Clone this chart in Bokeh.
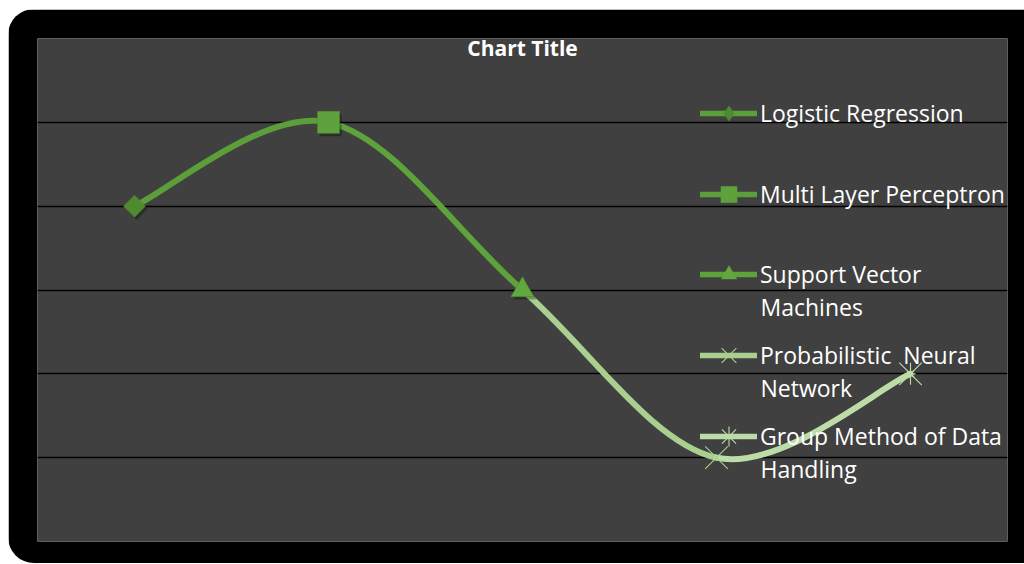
import math
from bokeh.plotting import figure
from bokeh.models import (Grid, FixedTicker, Label, Legend, LegendItem,
                          ColumnDataSource, Range1d)
from bokeh.transform import dodge
from bokeh.embed import file_html
from bokeh.resources import INLINE

# ---- data ----
methods = ["Logistic Regression", "Multi Layer Perceptron", "Support Vector Machines",
           "Probabilistic  Neural Network", "Group Method of Data Handling"]
label_first = ["Logistic Regression", "Multi Layer Perceptron", "Support Vector",
               "Probabilistic  Neural", "Group Method of Data"]
label_second = ["", "", "Machines", "Network", "Handling"]
values = [4, 5, 3, 1, 2]
positions = [0.5, 1.5, 2.5, 3.5, 4.5]
markers = ["square", "square", "triangle", "x", "x"]
legend_markers = ["diamond", "square", "triangle", "x", "asterisk"]
marker_angles = [math.pi / 4, 0, 0, 0, 0]
marker_sizes = [15.5, 22, 23, 32, 32]
legend_glyph_h = [38, 40, 38, 52, 50]
line_colors = ["#5B9E3A", "#5B9E3A", "#5EA23C", "#A9D08E", "#BCDCA8"]
marker_colors = ["#4E8B2E", "#5EA13D", "#62A83F", "#A9D08E", "#BCDCA8"]
grid_ticks = [1, 2, 3, 4, 5]

FONT = "Open Sans"

p = figure(width=1016, height=554, output_backend="svg", toolbar_location=None,
           x_axis_location=None, y_axis_location=None,
           x_range=Range1d(0, 5), y_range=Range1d(0, 6),
           min_border_left=29, min_border_right=17, min_border_top=29, min_border_bottom=22)
p.margin = (9, 0, 0, 8)
p.styles = {"border-radius": "26px 0 0 26px", "overflow": "hidden"}
p.border_fill_color = "black"
p.background_fill_color = "#404040"
p.outline_line_color = None
p.xgrid.visible = False
p.ygrid.visible = False

grid = Grid(dimension=1, ticker=FixedTicker(ticks=grid_ticks),
            grid_line_color="black", grid_line_width=1.3)
p.add_layout(grid)

# smooth curve (Catmull-Rom style bezier, like Excel's smoothed line)
n = len(values)
segs = dict(x0=[], y0=[], x1=[], y1=[], cx0=[], cy0=[], cx1=[], cy1=[], color=[])
for i in range(n - 1):
    xa, ya = (positions[i - 1], values[i - 1]) if i > 0 else (positions[i], values[i])
    xb, yb = positions[i], values[i]
    xc, yc = positions[i + 1], values[i + 1]
    xd, yd = (positions[i + 2], values[i + 2]) if i + 2 < n else (xc, yc)
    segs["x0"].append(xb); segs["y0"].append(yb)
    segs["x1"].append(xc); segs["y1"].append(yc)
    segs["cx0"].append(xb + (xc - xa) / 6); segs["cy0"].append(yb + (yc - ya) / 6)
    segs["cx1"].append(xc - (xd - xb) / 6); segs["cy1"].append(yc - (yd - yb) / 6)
    segs["color"].append(line_colors[i + 1])
p.bezier(x0="x0", y0="y0", x1="x1", y1="y1", cx0="cx0", cy0="cy0", cx1="cx1", cy1="cy1",
         line_color="color", line_width=6, line_cap="round", source=ColumnDataSource(segs))

legend_centers = [428, 347, 267, 186, 105]   # legend rows, px above plot-area bottom
for i in range(n):
    mk = markers[i]
    thin = mk == "x"
    src = ColumnDataSource(dict(x=[positions[i]], y=[values[i]]))
    thin_w = 1.1
    # legend-only marker (hidden beneath the data marker)
    lm = p.scatter(x="x", y="y", source=src, marker=legend_markers[i], size=10,
                   fill_color=marker_colors[i], line_color=marker_colors[i],
                   line_width=thin_w if thin else 0.6)
    if not thin:
        p.scatter(x=dodge("x", 0.011, range=p.x_range), y=dodge("y", -0.035, range=p.y_range),
                  source=src, marker=mk, size=marker_sizes[i], angle=marker_angles[i],
                  fill_color="black", line_color=None, fill_alpha=0.3)
    p.scatter(x="x", y="y", source=src, marker=mk, size=marker_sizes[i], angle=marker_angles[i],
              fill_color=marker_colors[i], line_color=marker_colors[i] if thin else "#4A8A2C",
              line_width=thin_w if thin else 0.6)
    if i == 4:
        p.scatter(x="x", y="y", source=src, marker="dash", size=22,
                  angle=math.pi / 2, line_color=marker_colors[i], line_width=thin_w)
    ln = p.line(x=[positions[i]], y=[values[i]], line_color=line_colors[i], line_width=5.5,
                line_cap="round")
    gh = legend_glyph_h[i]
    H = max(gh, 40)
    lg = Legend(items=[LegendItem(label=label_first[i], renderers=[ln, lm])],
                location=(663, legend_centers[i] - H / 2),
                background_fill_alpha=0, border_line_alpha=0,
                label_text_color="white", label_text_font=FONT, label_text_font_size="23px",
                glyph_width=57, glyph_height=gh, label_height=40, label_standoff=3,
                padding=0, margin=0, spacing=0)
    p.add_layout(lg)
    if label_second[i]:
        p.add_layout(Label(x=723, y=legend_centers[i] - 32, x_units="screen", y_units="screen",
                           text=label_second[i], text_align="left", text_baseline="middle",
                           text_color="white", text_font=FONT, text_font_size="23px"))

title = Label(x=2.5, y=494, y_units="screen", text="Chart Title", text_align="center",
              text_baseline="middle", text_color="white", text_font=FONT,
              text_font_size="21px", text_font_style="bold")
p.add_layout(title)

open("out.html", "w").write(file_html(p, INLINE))
